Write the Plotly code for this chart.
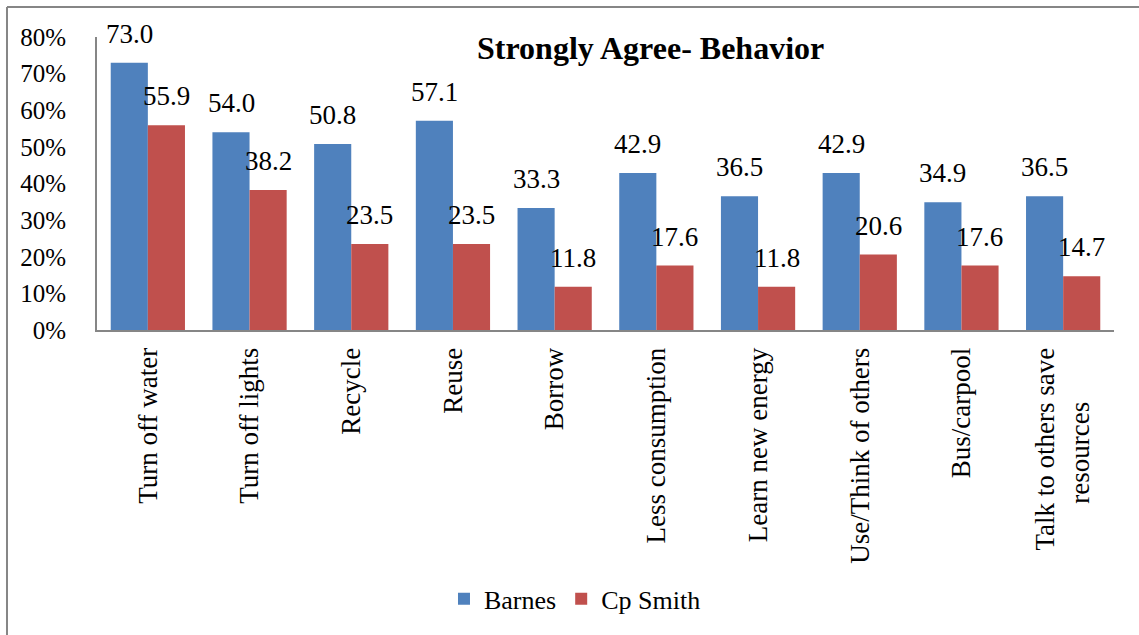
import plotly.graph_objects as go

categories = ["Turn off water", "Turn off lights", "Recycle", "Reuse", "Borrow",
              "Less consumption", "Learn new energy", "Use/Think of others",
              "Bus/carpool", "Talk to others save<br>resources\u00a0\u00a0\u00a0\u00a0\u00a0\u00a0\u00a0\u00a0"]
barnes = [73.0, 54.0, 50.8, 57.1, 33.3, 42.9, 36.5, 42.9, 34.9, 36.5]
cp_smith = [55.9, 38.2, 23.5, 23.5, 11.8, 17.6, 11.8, 20.6, 17.6, 14.7]
y_ticks = [0, 10, 20, 30, 40, 50, 60, 70, 80]
y_tick_text = ["0%", "10%", "20%", "30%", "40%", "50%", "60%", "70%", "80%"]

FONT = "Liberation Serif, Times New Roman, serif"
BLUE = "#4F81BD"
RED = "#C0504D"
AXIS = "#868686"

fig = go.Figure()
fig.add_trace(go.Bar(x=categories, y=barnes, name="Barnes", marker_color=BLUE,
                     marker_line_width=0))
fig.add_trace(go.Bar(x=categories, y=cp_smith, name="Cp Smith", marker_color=RED,
                     marker_line_width=0))

annotations = []
for vals, shift in ((barnes, -18.5), (cp_smith, 18.5)):
    for c, v in zip(categories, vals):
        annotations.append(dict(x=c, y=v, text=f"{v:.1f}", showarrow=False,
                                xshift=shift, yshift=12, yanchor="bottom",
                                xanchor="center",
                                font=dict(family=FONT, size=27, color="black")))

annotations.append(dict(xref="paper", yref="paper", x=0.544, y=0.962,
                        text="<b>Strongly Agree- Behavior</b>", showarrow=False,
                        xanchor="center", yanchor="middle",
                        font=dict(family=FONT, size=32, color="black")))

fig.update_layout(
    width=1139, height=635,
    margin=dict(l=97, r=25, t=37, b=305),
    paper_bgcolor="white", plot_bgcolor="white",
    barmode="group", bargap=0.27, bargroupgap=0,
    font=dict(family=FONT, size=26, color="black"),
    showlegend=True,
    legend=dict(orientation="h", x=0.47, y=-0.918, xanchor="center",
                yanchor="middle", font=dict(family=FONT, size=26, color="black"),
                itemwidth=30, traceorder="normal"),
    annotations=annotations,
    shapes=[
        dict(type="line", xref="paper", yref="paper",
             x0=-0.0885, y0=1.1024, x1=1.2, y1=1.1024,
             line=dict(color=AXIS, width=2), layer="below"),
        dict(type="line", xref="paper", yref="paper",
             x0=-0.0885, y0=-1.2, x1=-0.0885, y1=1.1024,
             line=dict(color=AXIS, width=2), layer="below"),
    ],
)
fig.update_xaxes(showline=True, linecolor=AXIS, linewidth=2, tickangle=-90,
                 ticks="", showgrid=False, ticklabelstandoff=5,
                 tickfont=dict(family=FONT, size=27, color="black"))
fig.update_yaxes(range=[0, 80], tickvals=y_ticks, ticktext=y_tick_text,
                 showline=True, linecolor=AXIS, linewidth=2, ticks="",
                 showgrid=False, zeroline=False, ticklabelstandoff=24,
                 tickfont=dict(family=FONT, size=25, color="black"))

fig.write_html("out.html")
